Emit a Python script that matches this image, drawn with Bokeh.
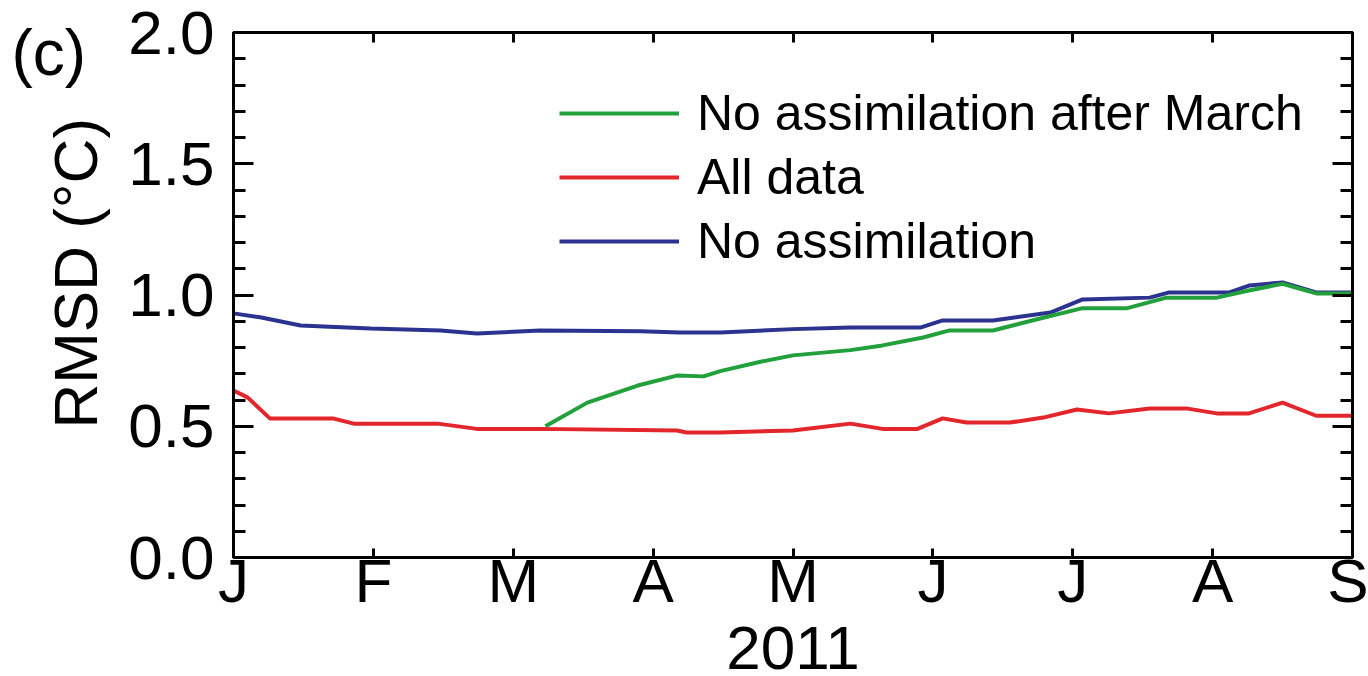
from bokeh.plotting import figure
from bokeh.models import (LinearAxis, FixedTicker, Range1d, Legend, LegendItem,
                          PrintfTickFormatter, CustomJSTickFormatter)
from bokeh.embed import file_html
from bokeh.resources import INLINE

FONT = "Liberation Sans"

month_labels = ["J", "F", "M", "A", "M", "J", "J", "A", "S"]
month_pos = [0, 1, 2, 3, 4, 5, 6, 7, 8]
y_major = [0.0, 0.5, 1.0, 1.5, 2.0]
y_minor = [0.1, 0.2, 0.3, 0.4, 0.6, 0.7, 0.8, 0.9, 1.1, 1.2, 1.3, 1.4, 1.6, 1.7, 1.8, 1.9]

# time in months since 1 Jan 2011
t_none = [0.0, 0.19, 0.48, 0.98, 1.48, 1.74, 2.19, 2.91, 3.19, 3.48, 4.0, 4.41, 4.91,
          5.07, 5.43, 5.84, 6.07, 6.55, 6.69, 7.12, 7.26, 7.5, 7.74, 8.0]
rmsd_none = [0.93, 0.915, 0.884, 0.872, 0.865, 0.853, 0.865, 0.862, 0.857, 0.857, 0.87, 0.876, 0.876,
             0.903, 0.903, 0.933, 0.983, 0.99, 1.01, 1.01, 1.036, 1.048, 1.01, 1.01]

t_after = [2.23, 2.53, 2.89, 3.17, 3.36, 3.48, 3.76, 4.0, 4.41, 4.64, 4.93, 5.12, 5.43,
           5.71, 6.07, 6.39, 6.67, 7.03, 7.26, 7.5, 7.74, 8.0]
rmsd_after = [0.50, 0.59, 0.655, 0.693, 0.69, 0.71, 0.745, 0.77, 0.79, 0.808, 0.838, 0.865, 0.865,
              0.903, 0.95, 0.95, 0.99, 0.99, 1.017, 1.043, 1.006, 1.006]

t_all = [0.0, 0.1, 0.26, 0.71, 0.86, 1.46, 1.74, 2.19, 3.17, 3.24, 3.48, 4.0, 4.41, 4.64,
         4.89, 5.07, 5.24, 5.55, 5.79, 6.03, 6.26, 6.55, 6.81, 7.03, 7.26, 7.5, 7.74, 8.0]
rmsd_all = [0.636, 0.61, 0.53, 0.53, 0.51, 0.51, 0.49, 0.49, 0.484, 0.476, 0.476, 0.484, 0.51, 0.49,
            0.49, 0.53, 0.514, 0.514, 0.533, 0.564, 0.549, 0.568, 0.568, 0.549, 0.549, 0.59, 0.54, 0.54]

GREEN = "#22a03c"
RED = "#e2262b"
BLUE = "#2c3290"

p = figure(width=1368, height=676, output_backend="svg", toolbar_location=None,
           x_range=Range1d(0, 8), y_range=Range1d(0, 2),
           min_border_left=233, min_border_right=16, min_border_top=32, min_border_bottom=119,
           x_axis_type=None, y_axis_type=None)
p.xgrid.visible = False
p.ygrid.visible = False
p.outline_line_color = "black"
p.outline_line_width = 3
p.background_fill_color = "white"
p.border_fill_color = "white"

# panel label "(c)" as the title, pulled to the left of the frame
p.title.text = "(c)"
p.title.text_font = FONT
p.title.text_font_size = "64px"
p.title.text_font_style = "normal"
p.title.text_color = "black"
p.title.align = "left"
p.title.offset = -222
p.title.standoff = -112

month_over = {m: l for m, l in zip(month_pos, month_labels)}
blank = CustomJSTickFormatter(code="return ''")


def style_common(ax):
    ax.axis_line_width = 3
    ax.axis_line_color = "black"
    ax.major_tick_line_width = 3
    ax.major_tick_line_color = "black"
    ax.minor_tick_line_width = 3
    ax.minor_tick_line_color = "black"
    ax.major_tick_out = 0
    ax.minor_tick_out = 0
    ax.major_label_text_font = FONT
    ax.major_label_text_color = "black"


# bottom axis
xb = LinearAxis(ticker=FixedTicker(ticks=month_pos, minor_ticks=[]))
style_common(xb)
xb.major_tick_in = 9
xb.major_label_overrides = month_over
xb.major_label_text_font_size = "62px"
xb.major_label_standoff = -12
xb.axis_label = "2011"
xb.axis_label_text_font = FONT
xb.axis_label_text_font_size = "62px"
xb.axis_label_text_font_style = "normal"
xb.axis_label_text_color = "black"
xb.axis_label_standoff = 9
p.add_layout(xb, "below")

# top axis (ticks only)
xt = LinearAxis(ticker=FixedTicker(ticks=month_pos, minor_ticks=[]), formatter=blank)
style_common(xt)
xt.major_tick_in = 10
xt.major_label_standoff = 0
p.add_layout(xt, "above")

# left axis
yl = LinearAxis(ticker=FixedTicker(ticks=y_major, minor_ticks=y_minor),
                formatter=PrintfTickFormatter(format="%.1f"))
style_common(yl)
yl.major_tick_in = 20
yl.minor_tick_in = 12
yl.major_label_text_font_size = "62px"
yl.major_label_standoff = 19
yl.axis_label = "\u2002\u2009RMSD (°C)"
yl.axis_label_text_font = FONT
yl.axis_label_text_font_size = "62px"
yl.axis_label_text_font_style = "normal"
yl.axis_label_text_color = "black"
yl.axis_label_standoff = 15
p.add_layout(yl, "left")

# right axis (ticks only)
yr = LinearAxis(ticker=FixedTicker(ticks=y_major, minor_ticks=y_minor), formatter=blank)
style_common(yr)
yr.major_tick_in = 20
yr.minor_tick_in = 12
yr.major_label_standoff = 0
p.add_layout(yr, "right")

r_none = p.line(t_none, rmsd_none, line_color=BLUE, line_width=4)
r_after = p.line(t_after, rmsd_after, line_color=GREEN, line_width=4)
r_all = p.line(t_all, rmsd_all, line_color=RED, line_width=4)

legend = Legend(items=[
    LegendItem(label="No assimilation after March", renderers=[r_after]),
    LegendItem(label="All data", renderers=[r_all]),
    LegendItem(label="No assimilation", renderers=[r_none]),
], location=(326, 287))
legend.background_fill_alpha = 0
legend.border_line_color = None
legend.padding = 0
legend.margin = 0
legend.spacing = 6
legend.label_standoff = 18
legend.glyph_width = 120
legend.glyph_height = 40
legend.label_text_font = FONT
legend.label_text_font_size = "50px"
legend.label_text_color = "black"
p.add_layout(legend)

open("out.html", "w").write(file_html(p, INLINE))
